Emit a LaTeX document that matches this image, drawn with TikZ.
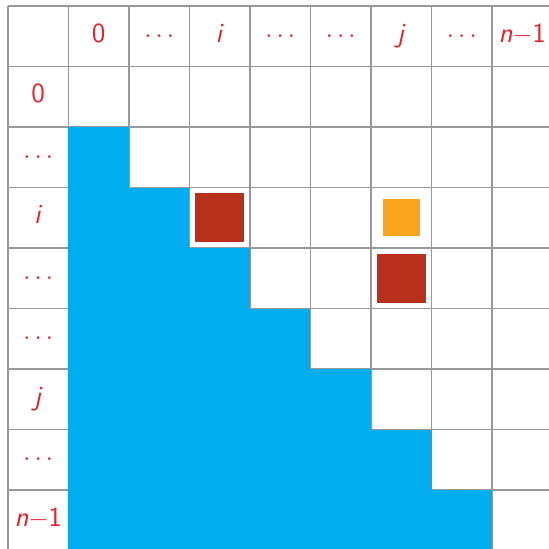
\documentclass[tikz,border=0pt]{standalone}
\definecolor{cellblue}{RGB}{0,173,239}
\definecolor{brickred}{RGB}{183,48,27}
\definecolor{amber}{RGB}{249,165,30}
\definecolor{labelred}{RGB}{237,32,40}
\begin{document}
\begin{tikzpicture}[x=1cm, y=-1cm,
  gridline/.style={draw=gray!80, line width=0.6pt},
  headlabel/.style={text=labelred, font=\sffamily\fontsize{13}{15}\selectfont,
    text height=1.6ex, text depth=0.3ex, inner sep=0pt},
  bigsq/.style={fill=brickred, minimum size=0.81cm, inner sep=0pt},
  smallsq/.style={fill=amber, minimum size=0.61cm, inner sep=0pt}]
  % 表示範囲 (右端と下端は少し切れる)
  \useasboundingbox (-0.132,-0.099) rectangle (8.942,8.975);
  \clip (-0.132,-0.099) rectangle (8.942,8.975);

  % 格子 (9 x 9 のセル)
  \draw[gridline] (0,0) grid (9,9);

  % 対角より下の領域 (階段状)
  \foreach \r in {2,...,8}
    \fill[cellblue] (1,\r) rectangle (\r,\r+1);

  % 行と列の見出し
  \foreach \lab [count=\k] in {0,$\cdots$,\textit{i},$\cdots$,$\cdots$,\textit{j},$\cdots$,\textit{n}$-$1} {
    \node[headlabel] (col\k) at (\k+0.5,0.5) {\lab};
    \node[headlabel] (row\k) at (0.5,\k+0.5) {\lab};
  }

  % セル (i,i), (i,j), (i+1,j) の印
  \node[bigsq]   (cellii) at (3.5,3.5) {};
  \node[smallsq] (cellij) at (6.5,3.5) {};
  \node[bigsq]   (cellkj) at (6.5,4.5) {};

\end{tikzpicture}
\end{document}
